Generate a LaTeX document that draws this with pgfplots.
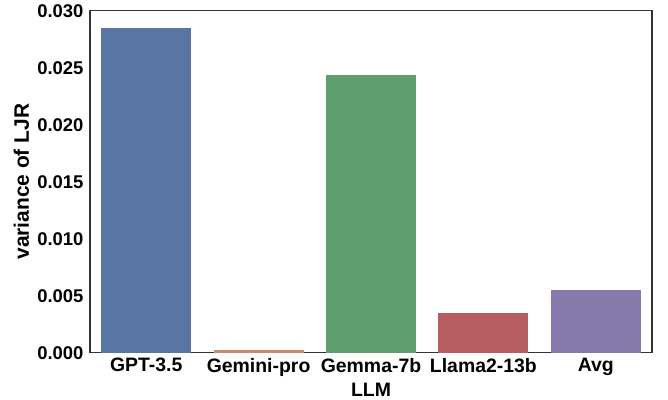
\documentclass[border=0pt]{standalone}
\usepackage{pgfplots}
\pgfplotsset{compat=1.18}
\usepackage{fontspec}
\setmainfont{Liberation Sans}
\definecolor{cb}{HTML}{5975A4}
\definecolor{co}{HTML}{CC8963}
\definecolor{cg}{HTML}{5F9E6E}
\definecolor{cr}{HTML}{B55D60}
\definecolor{cp}{HTML}{857AAB}
\begin{document}
\begin{tikzpicture}
\useasboundingbox (-90bp,-47.3bp) rectangle (578bp,352.7bp);
\begin{axis}[
  at={(0,0)}, anchor=south west,
  scale only axis, width=562bp, height=342bp,
  xmin=-0.5, xmax=4.5, ymin=0, ymax=0.03003,
  axis line style={draw=black!80, line width=1.1pt},
  major tick length=0pt,
  xtick={0,1,2,3,4},
  xticklabels={GPT-3.5,Gemini-pro,Gemma-7b,Llama2-13b,Avg},
  ytick={0,0.005,0.01,0.015,0.02,0.025,0.03},
  scaled y ticks=false,
  xticklabel style={yshift=-2bp, font=\fontsize{19.5}{22}\selectfont\bfseries},
  yticklabel style={xshift=-3bp, font=\fontsize{18.5}{22}\selectfont\bfseries, /pgf/number format/.cd, fixed, fixed zerofill, precision=3, assume math mode=true},
  xlabel={LLM}, ylabel={variance of LJR},
  xlabel style={yshift=0bp, font=\fontsize{19.5}{22}\selectfont\bfseries},
  ylabel style={yshift=1.5bp, font=\fontsize{21}{24}\selectfont\bfseries},
  ybar, bar width=0.8, bar shift=0pt,
  every axis plot/.append style={draw=none},
  clip=false,
]
\addplot[fill=cb] coordinates {(0,0.02848)};
\addplot[fill=co] coordinates {(1,0.00021)};
\addplot[fill=cg] coordinates {(2,0.02437)};
\addplot[fill=cr] coordinates {(3,0.00346)};
\addplot[fill=cp] coordinates {(4,0.00551)};
\end{axis}
\end{tikzpicture}
\end{document}
